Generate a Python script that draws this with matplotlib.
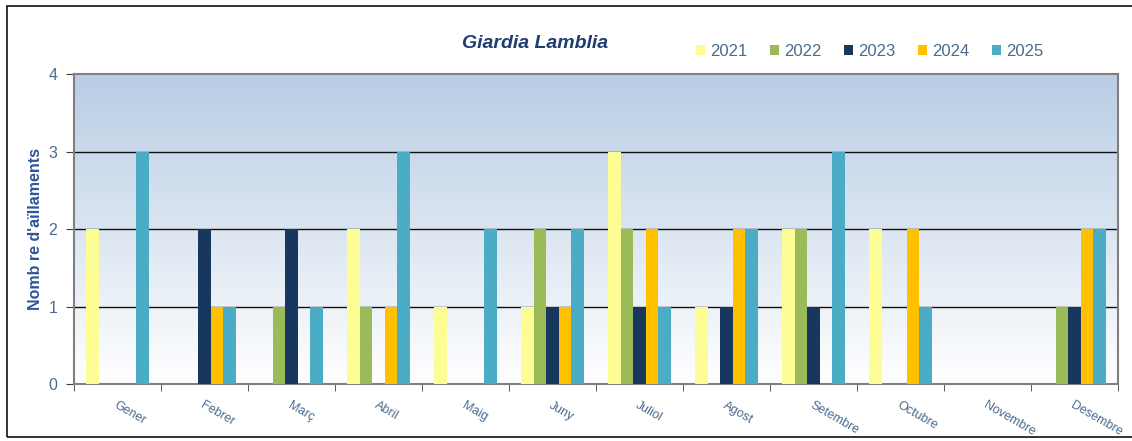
import matplotlib
matplotlib.use("Agg")
import matplotlib.pyplot as plt
import numpy as np
from matplotlib.colors import LinearSegmentedColormap
from matplotlib.patches import Rectangle

plt.rcParams["font.family"] = ["Liberation Sans", "DejaVu Sans"]

months = ["Gener", "Febrer", "Març", "Abril", "Maig", "Juny", "Juliol",
          "Agost", "Setembre", "Octubre", "Novembre", "Desembre"]
years = ["2021", "2022", "2023", "2024", "2025"]
y2021 = [2, 0, 0, 2, 1, 1, 3, 1, 2, 2, 0, 0]
y2022 = [0, 0, 1, 1, 0, 2, 2, 0, 2, 0, 0, 1]
y2023 = [0, 2, 2, 0, 0, 1, 1, 1, 1, 0, 0, 1]
y2024 = [0, 1, 0, 1, 0, 1, 2, 2, 0, 2, 0, 2]
y2025 = [3, 1, 1, 3, 2, 2, 1, 2, 3, 1, 0, 2]
series = [y2021, y2022, y2023, y2024, y2025]
colors = ["#fdfd96", "#9bbb59", "#17375e", "#ffc000", "#4bacc6"]

TEXT = "#4a6a90"

fig = plt.figure(figsize=(11.32, 4.41), dpi=100)
ax = fig.add_axes([0.0654, 0.129, 0.9222, 0.703])

# gradient background
grad = LinearSegmentedColormap.from_list("bg", ["#ffffff", "#dbe5f1", "#b9cde5"])
ax.imshow(np.linspace(0, 1, 256).reshape(-1, 1), aspect="auto", cmap=grad,
          origin="lower", extent=[0, 1, 0, 1], transform=ax.transAxes, zorder=0)

x = np.arange(len(months))
w = 0.145
for k, (vals, c, lab) in enumerate(zip(series, colors, years)):
    ax.bar(x - 2 * w + k * w, vals, width=w, color=c, label=lab, zorder=3)

ax.set_xlim(-0.5, len(months) - 0.5)
ax.set_ylim(0, 4)
ax.set_yticks([0, 1, 2, 3, 4])
for yv in [1, 2, 3]:
    ax.axhline(yv, color="#111111", lw=1.0, zorder=2)

for s in ax.spines.values():
    s.set_color("#808080")
    s.set_linewidth(1.5)

ax.tick_params(axis="y", direction="out", length=6, color="#404040",
               labelsize=11.5, labelcolor=TEXT, pad=6)
ax.set_xticks(x)
ax.set_xticklabels(months, rotation=-30, ha="left", rotation_mode="anchor",
                   fontsize=9, color=TEXT)
ax.tick_params(axis="x", which="major", length=0, pad=11)
ax.set_xticks(np.arange(-0.5, len(months)), minor=True)
ax.tick_params(axis="x", which="minor", direction="out", length=5, color="#404040")

ax.set_ylabel("Nomb re d'aïllaments", fontsize=11.5, fontweight="bold",
              color="#2e5597", labelpad=4)

fig.text(0.473, 0.902, "Giardia Lamblia", fontsize=14, fontweight="bold",
         style="italic", color="#1f3d6e", ha="center", va="center")

leg = fig.legend(loc="center", bbox_to_anchor=(0.768, 0.884), ncol=5,
                 frameon=False, fontsize=12, handlelength=0.55, handleheight=0.55,
                 handletextpad=0.3, columnspacing=1.35)
for t in leg.get_texts():
    t.set_color(TEXT)

# outer frame
fig.add_artist(Rectangle((0.006, 0.008), 1.2, 0.978, transform=fig.transFigure,
                         fill=False, edgecolor="#111111", lw=1.2))

fig.savefig("out.png", dpi=100)
